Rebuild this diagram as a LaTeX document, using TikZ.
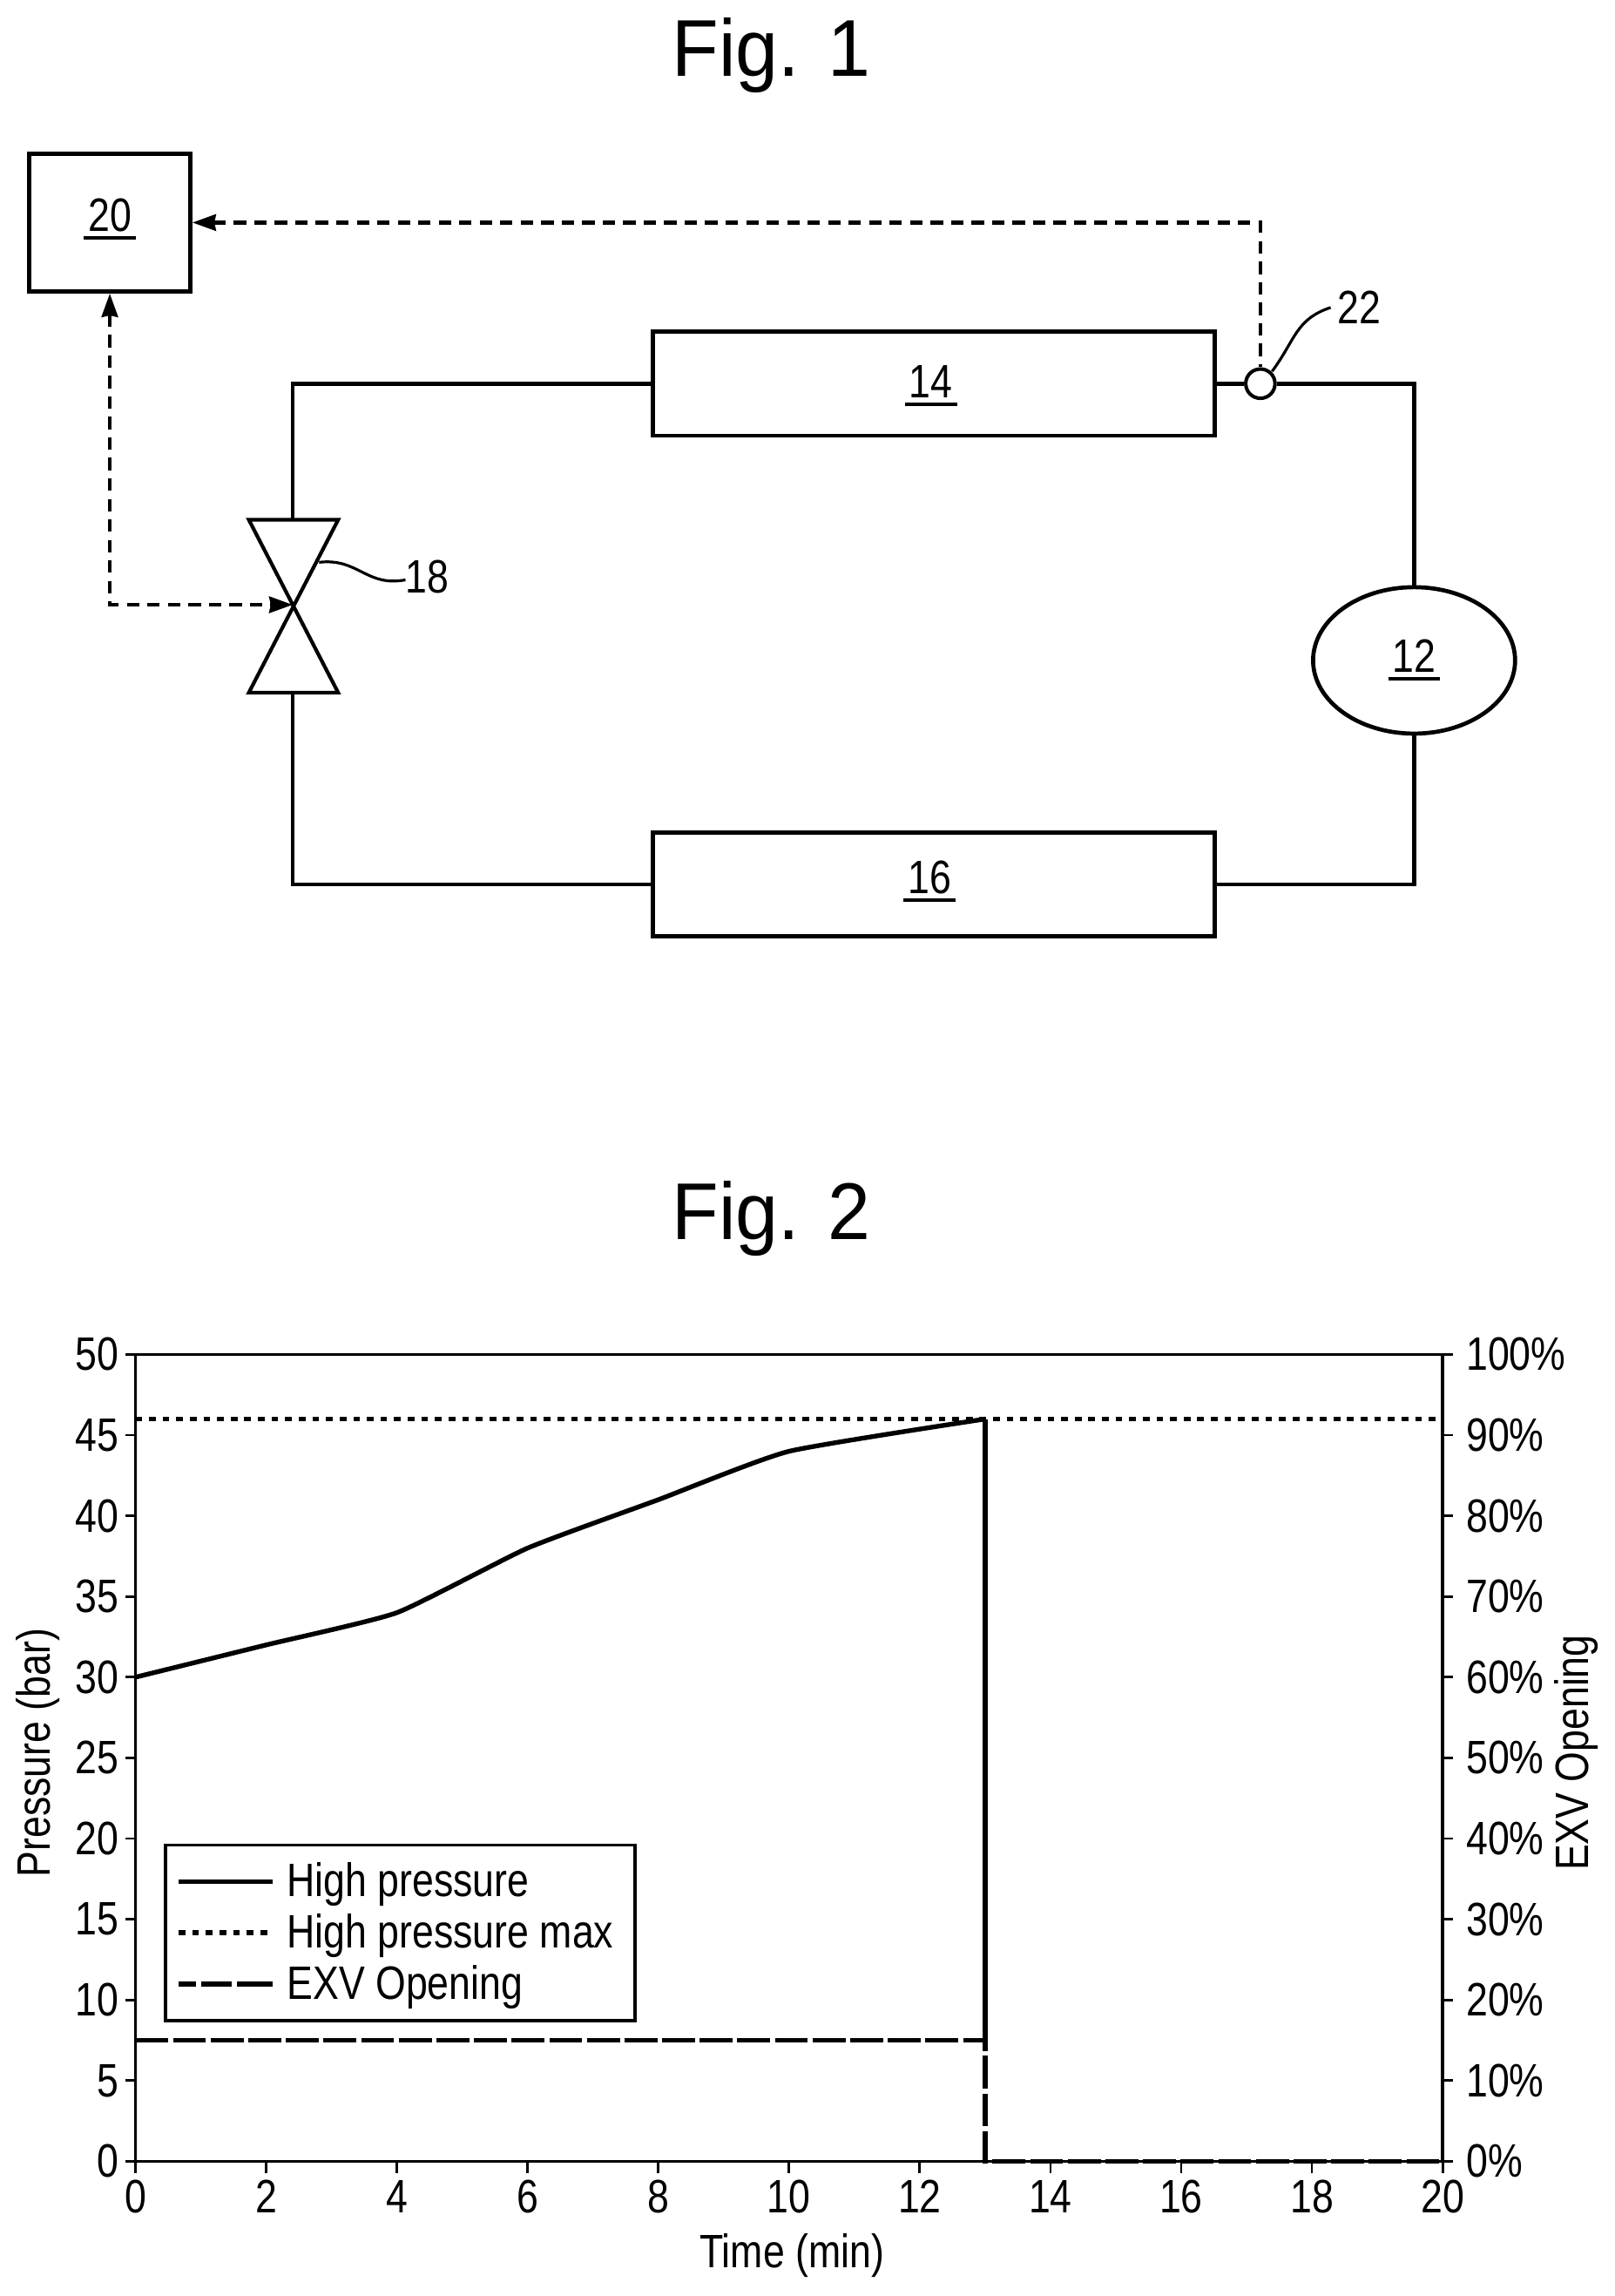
\documentclass[tikz,border=0pt]{standalone}
\usepackage{fontspec}
\setmainfont{Liberation Sans}
\newfontfamily\chartf[FakeStretch=0.83]{Liberation Sans}
\newfontfamily\titlef[FakeStretch=0.95]{Liberation Sans}
\usetikzlibrary{shapes.geometric,arrows.meta}
\newcommand\unum[1]{\setbox0=\hbox{#1}\hbox{\rlap{\kern-3pt\smash{\raisebox{-5.6pt}{\rule{\dimexpr\wd0+6pt\relax}{2.4pt}}}}\box0}}
\tikzset{
  x=1pt,y=-1pt,
  pipe/.style={line width=2.8pt,black,line join=miter},
  sig/.style={line width=2.8pt,black,dash pattern=on 8.5pt off 5.5pt},
  tipped/.style={arrows={Stealth[length=16pt,width=11pt,inset=1pt]-Stealth[length=16pt,width=11pt,inset=1pt]}},
  tipa/.style={arrows={Stealth[length=16pt,width=11pt,inset=1pt]-}},
  box/.style={draw,pipe,fill=white,rectangle,inner sep=0pt},
  ttl/.style={font=\titlef\fontsize{55}{58}\selectfont,inner sep=0pt,anchor=base west},
  tick/.style={line width=1.7pt},
  ax/.style={line width=2.2pt,black},
  lab/.style={font=\chartf\fontsize{32}{34}\selectfont,inner sep=0pt},
  hp/.style={line width=3.2pt,black,line join=round},
  hpmax/.style={line width=3.4pt,black,dash pattern=on 4.6pt off 4.7pt},
  exv/.style={line width=3.4pt,black,dash pattern=on 22.5pt off 3.2pt},
}
\begin{document}
\begin{tikzpicture}
\useasboundingbox (0,0) rectangle (1102.7,1568);
\fill[white] (0,0) rectangle (1102.7,1568);
% Fig. 1
\node[ttl] (t1) at (459,52) {Fig. 1};
\node[box,minimum width=110pt,minimum height=94pt] (b20) at (75,152) {};
\node[box,minimum width=384pt,minimum height=71pt] (b14) at (638,262) {};
\node[box,minimum width=384pt,minimum height=71pt] (b16) at (638,604) {};
\node[draw,pipe,ellipse,minimum width=138pt,minimum height=100pt,inner sep=0pt] (e12) at (966,451) {};
\node[lab] (n20) at (75,147) {\unum{20}};
\node[lab] (n14) at (636,260.5) {\unum{14}};
\node[lab] (n16) at (635,599.5) {\unum{16}};
\node[lab] (n12) at (966,448) {\unum{12}};
\node[draw,line width=2.4pt,circle,minimum size=20pt,inner sep=0pt] (s22) at (861,262) {};
\coordinate (vc) at (200,413);
\coordinate (vtl) at (170,355);
\coordinate (vtr) at (231,355);
\coordinate (vbl) at (170,473);
\coordinate (vbr) at (231,473);
\coordinate (vt) at (200,355);
\coordinate (vb) at (200,473);
\draw[pipe,line width=2.5pt] (vtl) -- (vtr) -- (vbl) -- (vbr) -- cycle;
\draw[pipe] (vt) |- (b14.west);
\draw[pipe] (b14.east) -- (s22.west);
\draw[pipe] (s22.east) -| (e12.north);
\draw[pipe] (e12.south) |- (b16.east);
\draw[pipe] (b16.west) -| (vb);
\draw[sig,tipa] (b20.east) -| (s22.north);
\draw[sig,tipped] (b20.south) |- (vc);
\node[lab] (n18) at (291.7,394) {18};
\node[lab] (n22) at (928.5,210) {22};
\coordinate (l18a) at (218,384);
\coordinate (l18b) at (277,396);
\coordinate (l22a) at (869,253.6);
\coordinate (l22b) at (909,210);
\draw[line width=1.9pt] (l18a) .. controls (245,381) and (250,401) .. (l18b);
\draw[line width=1.9pt] (l22a) .. controls (885,232) and (885,218) .. (l22b);
% Fig. 2
\node[ttl] (t2) at (459,846.6) {Fig. 2};
\begin{scope}[shift={(92.5,1476)},x=44.65pt,y=11.02pt]
  \draw[ax] (0,0) rectangle (20,50);
  \foreach \v in {0,5,...,50} {
    \draw[tick] (0,\v) -- ++(-7pt,0pt);
    \node[lab,anchor=east] (yl\v) at ([xshift=-11pt]0,\v) {\v};
  }
  \foreach \v [evaluate=\v as \w using int(\v*2)] in {0,5,...,50} {
    \draw[tick] (20,\v) -- ++(7pt,0pt);
    \node[lab,anchor=west] (yr\v) at ([xshift=16pt]20,\v) {\w\%};
  }
  \foreach \v in {0,2,...,20} {
    \draw[tick] (\v,0) -- ++(0pt,-8pt);
    \node[lab] (xl\v) at ([yshift=-24pt]\v,0) {\v};
  }
  \draw[hpmax] (0,46) -- (20,46);
  \draw[hp] plot[smooth,tension=0.3] coordinates {(0,30) (2,32) (4,34) (6,38) (8,41) (10,44) (13,46)};
  \draw[exv] (0,7.5) -- (13,7.5) -- (13,0) -- (20,0);
  \draw[line width=3.6pt] (13,46) -- (13,7.5);
\end{scope}
\node[lab,rotate=90] (yt) at (26,1197) {Pressure (bar)};
\node[lab,rotate=90] (yt2) at (1077,1197) {EXV Opening};
\node[lab] (xt) at (541,1540.5) {Time (min)};
% legend
\node[draw,line width=2.2pt,fill=white,minimum width=321pt,minimum height=120pt,inner sep=0pt] (leg) at (273.5,1320) {};
\node[lab,anchor=west] (l1) at (196,1287) {High pressure};
\node[lab,anchor=west] (l2) at (196,1322) {High pressure max};
\node[lab,anchor=west] (l3) at (196,1357) {EXV Opening};
\coordinate (a1) at (122,1285); \coordinate (a2) at (186,1285);
\coordinate (b1) at (122,1320); \coordinate (b2) at (186,1320);
\coordinate (c1) at (122,1355); \coordinate (c2) at (186,1355);
\draw[hp] (a1) -- (a2);
\draw[hpmax] (b1) -- (b2);
\draw[line width=3.4pt,dash pattern=on 12pt off 3.5pt on 21pt off 3.5pt on 24pt] (c1) -- (c2);
\end{tikzpicture}
\end{document}
